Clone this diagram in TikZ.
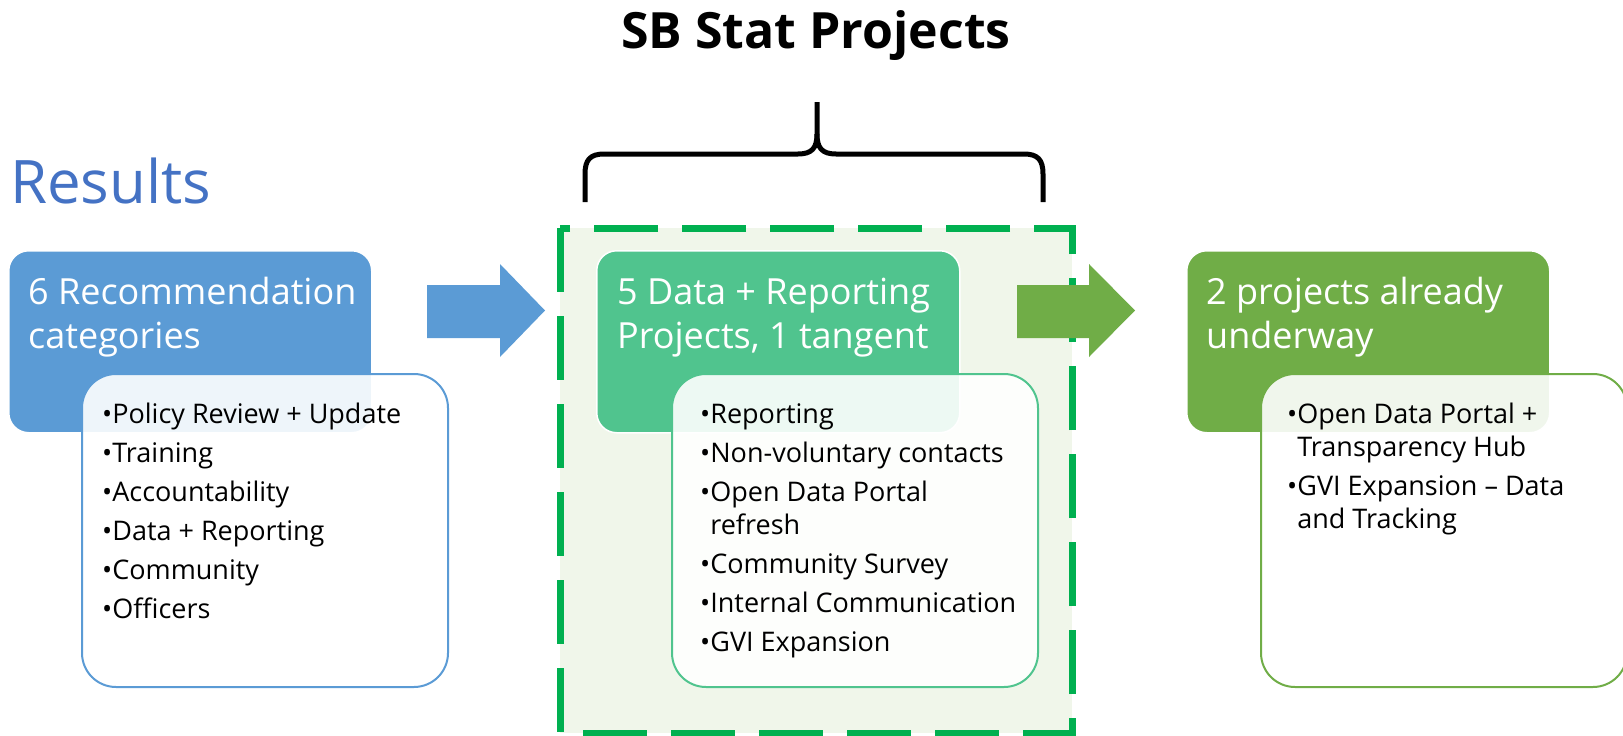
\documentclass[tikz,border=0pt]{standalone}
\usepackage{fontspec}
\setmainfont{Open Sans}
\usetikzlibrary{positioning}

\definecolor{hdblue}{HTML}{5B9BD5}
\definecolor{resblue}{HTML}{4472C4}
\definecolor{hdteal}{HTML}{50C48E}
\definecolor{hdgreen}{HTML}{70AD47}
\definecolor{dashgreen}{HTML}{00B050}
\definecolor{projfill}{HTML}{F0F6EA}

\tikzset{
  header/.style={draw=white, line width=1.5pt, rounded corners=20pt, minimum width=363pt, minimum height=182pt, anchor=north west, inner sep=0pt},
  listbox/.style={fill=white, fill opacity=0.9, line width=2pt, rounded corners=34pt, minimum width=366pt, minimum height=313pt, anchor=north west, inner sep=0pt},
  hdtext/.style={text=white, font=\fontsize{36}{44}\selectfont, align=left, anchor=base west, inner sep=0pt},
  itemtext/.style={font=\fontsize{27}{33}\selectfont, align=left, anchor=base west, inner sep=0pt},
}

\begin{document}
\begin{tikzpicture}[x=1pt,y=-1pt]
\useasboundingbox (0,0) rectangle (1623,736);

% title and brace
\node[font=\fontsize{50}{60}\selectfont\bfseries, anchor=base, inner sep=0pt] (title) at (816,48) {SB Stat Projects};
\draw[line width=5pt, line join=round] (585,202) -- (585,174) .. controls (585,160) and (590,154) .. (604,154) -- (798,154) .. controls (812,154) and (817,148) .. (817,134) -- (817,102);
\draw[line width=5pt, line join=round] (1043,202) -- (1043,174) .. controls (1043,160) and (1038,154) .. (1024,154) -- (836,154) .. controls (822,154) and (817,148) .. (817,134);

\node[text=resblue, font=\fontsize{60}{70}\selectfont, anchor=base west, inner sep=0pt] (results) at (10,203) {Results};

% dashed frame round the middle group
\draw[dashgreen, fill=projfill, line width=7pt, dash pattern=on 64pt off 24pt] (560,228) rectangle (1072,733);

% headers
\node[header, fill=hdblue] (rec) at (8,250) {};
\node[header, fill=hdteal] (proj) at (596,250) {};
\node[header, fill=hdgreen] (under) at (1186,250) {};

% lists
\node[listbox, draw=hdblue] (reclist) at (81,373) {};
\node[listbox, draw=hdteal] (projlist) at (671,373) {};
\node[listbox, draw=hdgreen] (underlist) at (1260,373) {};

% texts (base = last line)
\node[hdtext] (rectext) at (28,348) {6 Recommendation\\categories};
\node[hdtext] (projtext) at (617,348) {5 Data + Reporting\\Projects, 1 tangent};
\node[hdtext] (undertext) at (1206,348) {2 projects already\\underway};

\node[itemtext] (recitems) at (102,618) {•Policy Review + Update\\[6pt]•Training\\[6pt]•Accountability\\[6pt]•Data + Reporting\\[6pt]•Community\\[6pt]•Officers};
\node[itemtext] (projitems) at (700,651) {•Reporting\\[6pt]•Non-voluntary contacts\\[6pt]•Open Data Portal\\\phantom{•}refresh\\[6pt]•Community Survey\\[6pt]•Internal Communication\\[6pt]•GVI Expansion};
\node[itemtext] (underitems) at (1287,528) {•Open Data Portal +\\\phantom{•}Transparency Hub\\[6pt]•GVI Expansion – Data\\\phantom{•}and Tracking};

% arrows
\fill[hdblue] (427,285) -- (500,285) -- (500,264) -- (545,310.5) -- (500,357) -- (500,338) -- (427,338) -- cycle;
\fill[hdgreen] (1017,285) -- (1089,285) -- (1089,264) -- (1135,310.5) -- (1089,357) -- (1089,338) -- (1017,338) -- cycle;
\end{tikzpicture}
\end{document}
